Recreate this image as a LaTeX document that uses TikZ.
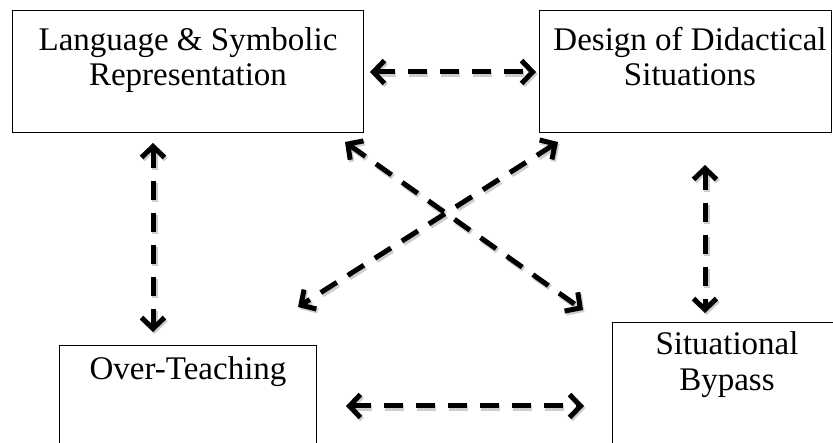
\documentclass[tikz,border=0pt]{standalone}
\usepackage{fontspec}
\setmainfont{Liberation Serif}
\usetikzlibrary{arrows.meta}
\begin{document}
\begin{tikzpicture}[x=1pt,y=-1pt,
  box/.style={draw, line width=1pt, rectangle, inner sep=0pt, anchor=north west},
  lbl/.style={anchor=base, inner sep=0pt, font=\fontsize{33}{38}\selectfont},
  link/.style={line width=5pt, dash pattern=on 19pt off 13pt,
    {Straight Barb[length=11pt,width=23pt,line width=5pt]}-{Straight Barb[length=11pt,width=23pt,line width=5pt]}},
  shade/.style={link, draw=black!20, line width=6pt, transform canvas={shift={(1.5pt,-2pt)}}}]
\useasboundingbox (0,0) rectangle (833,443);
\begin{scope}
\clip (0,0) rectangle (833,443);
% boxes
\node[box, minimum width=351pt, minimum height=122pt] (lsr) at (12,10) {};
\node[box, minimum width=292pt, minimum height=122pt] (dds) at (539,10) {};
\node[box, minimum width=257pt, minimum height=110pt] (ot) at (59,345) {};
\node[box, minimum width=230pt, minimum height=130pt] (sb) at (612,322) {};
\end{scope}
% texts
\node[lbl] (t1a) at (188,51) {Language \& Symbolic};
\node[lbl] (t1b) at (188,86) {Representation};
\node[lbl] (t2a) at (690,51) {Design of Didactical};
\node[lbl] (t2b) at (690,86) {Situations};
\node[lbl] (t3) at (188,380) {Over-Teaching};
\node[lbl] (t4a) at (727,355) {Situational};
\node[lbl] (t4b) at (727,391) {Bypass};
% arrow ends
\coordinate (a1) at (370,72);
\coordinate (a2) at (536,72);
\coordinate (b1) at (346,406);
\coordinate (b2) at (584,406);
\coordinate (c1) at (153,143);
\coordinate (c2) at (153,332);
\coordinate (d1) at (705,165);
\coordinate (d2) at (705,313);
\coordinate (e1) at (345,142);
\coordinate (e2) at (583,310);
\coordinate (f1) at (558,142);
\coordinate (f2) at (298,307);
\foreach \p/\q in {a1/a2,b1/b2,c1/c2,d1/d2,e1/e2,f1/f2}
  \draw[shade] (\p) -- (\q);
\draw[link] (a1) -- (a2);
\draw[link] (b1) -- (b2);
\draw[link] (c1) -- (c2);
\draw[link] (d1) -- (d2);
\draw[link] (e1) -- (e2);
\draw[link] (f1) -- (f2);
\end{tikzpicture}
\end{document}
